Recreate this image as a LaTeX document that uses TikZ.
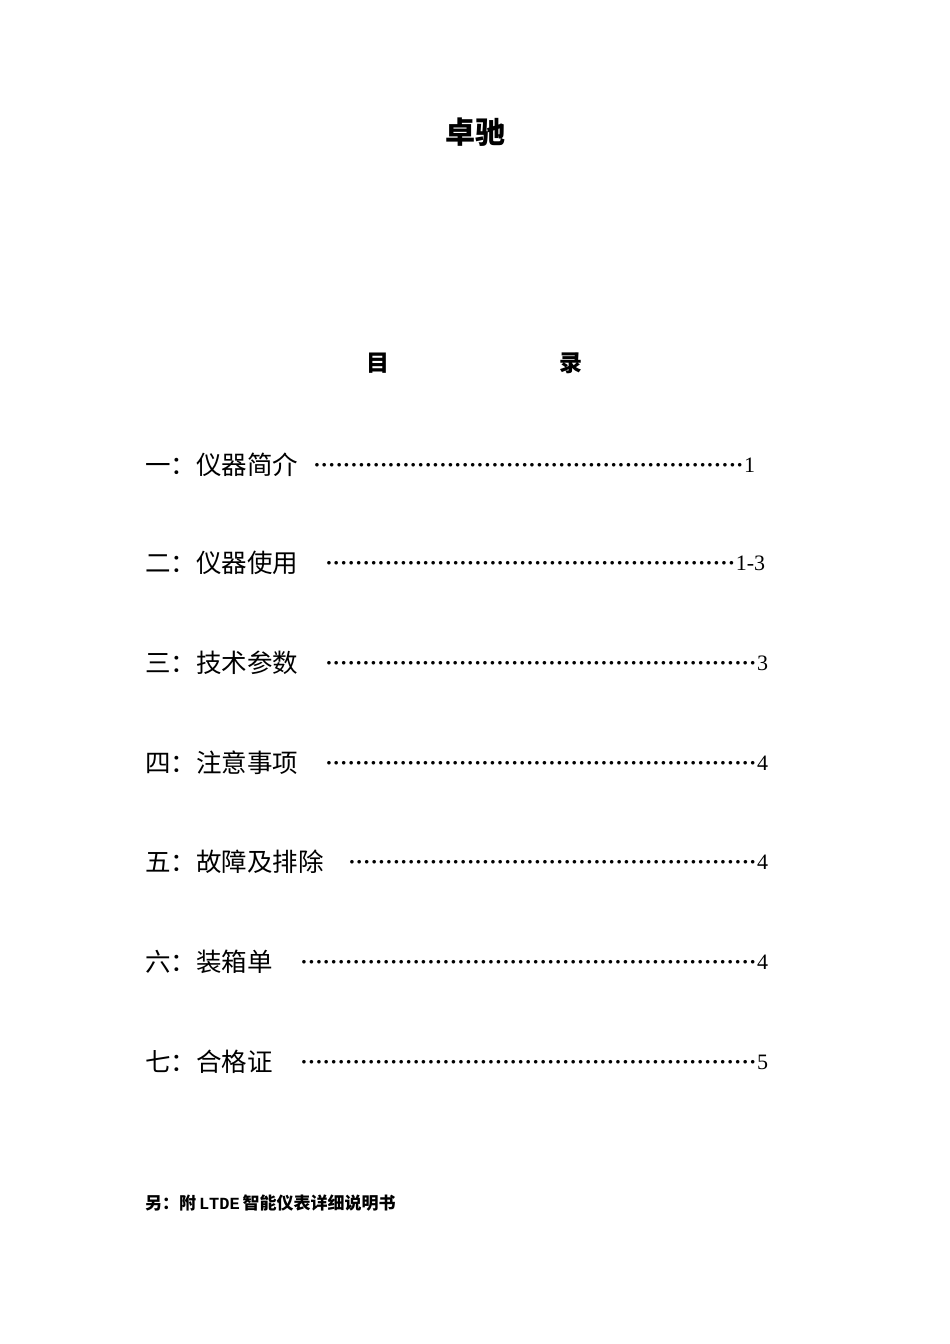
\documentclass[tikz,border=0pt]{standalone}
\usepackage{fontspec}
\setmainfont{Liberation Serif}
\setmonofont{Liberation Mono}
\newfontfamily\cjk{Noto Sans CJK SC}
\tikzset{x=1pt,y=-1pt,
 entry/.style={anchor=west,inner sep=0pt,font=\cjk\fontsize{25.5}{25.5}\selectfont},
 dots/.style={anchor=west,inner sep=0pt,font=\fontsize{22}{22}\selectfont,align=left}}
\newcommand\dotrow[2]{\hbox to #1pt{\xleaders\hbox to 7.4pt{\hss\textbf{·}\hss}\hfill #2}}
\begin{document}
\begin{tikzpicture}
\useasboundingbox[fill=white] (0,0) rectangle (950,1344);
\node[font=\cjk\bfseries\fontsize{30}{30}\selectfont] (title) at (475,132) {卓驰};
\node[font=\cjk\bfseries\fontsize{23}{23}\selectfont] (mu) at (378,363) {目};
\node[font=\cjk\bfseries\fontsize{23}{23}\selectfont] (lu) at (571,363) {录};
\node[entry] (e1) at (145,465) {一：仪器简介};
\node[dots] (d1) at (313,465) {\dotrow{442}{1}};
\node[entry] (e2) at (145,563) {二：仪器使用};
\node[dots] (d2) at (325,563) {\dotrow{440}{1-3}};
\node[entry] (e3) at (145,663) {三：技术参数};
\node[dots] (d3) at (325,663) {\dotrow{443}{3}};
\node[entry] (e4) at (145,763) {四：注意事项};
\node[dots] (d4) at (325,763) {\dotrow{443}{4}};
\node[entry] (e5) at (145,862) {五：故障及排除};
\node[dots] (d5) at (348,862) {\dotrow{420}{4}};
\node[entry] (e6) at (145,962) {六：装箱单};
\node[dots] (d6) at (300,962) {\dotrow{468}{4}};
\node[entry] (e7) at (145,1062) {七：合格证};
\node[dots] (d7) at (300,1062) {\dotrow{468}{5}};
\node[anchor=west,inner sep=0pt,font=\bfseries\fontsize{17}{17}\selectfont] (note) at (145,1203) {{\cjk 另：附}\,\texttt{LTDE}\,{\cjk 智能仪表详细说明书}};
\end{tikzpicture}
\end{document}
